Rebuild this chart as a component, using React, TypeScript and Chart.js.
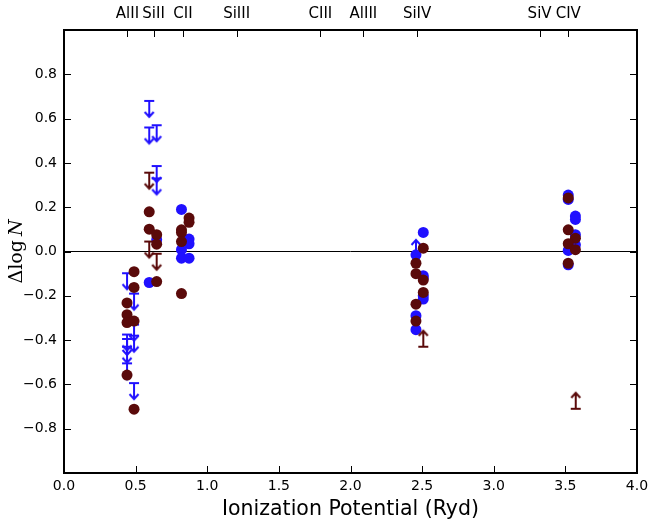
import React, { useEffect, useRef } from 'react';
import { Chart, registerables } from 'chart.js';

Chart.register(...registerables);

// ---- data ----
const xTickStep = 0.5;
const yTickStep = 0.2;
const xRange = [0, 4];
const yRange = [-1, 1];

const ionLabels = ['AlII', 'SiII', 'CII', 'SiIII', 'CIII', 'AlIII', 'SiIV', 'SiV', 'CIV'];
const ionPositions = [0.443, 0.625, 0.83, 1.205, 1.79, 2.09, 2.465, 3.32, 3.52];

const blueDots: [number, number][] = [
  [0.595, -0.14], [0.647, 0.053],
  [0.82, 0.19], [0.873, 0.056], [0.873, 0.035], [0.82, 0.008], [0.82, -0.03], [0.873, -0.03],
  [2.508, 0.086], [2.457, -0.015], [2.508, -0.109], [2.508, -0.12], [2.508, -0.2], [2.508, -0.215],
  [2.457, -0.29], [2.457, -0.353],
  [3.52, 0.255], [3.52, 0.235], [3.57, 0.16], [3.57, 0.145], [3.57, 0.076], [3.57, 0.03],
  [3.52, 0.005], [3.52, -0.06],
];

const redDots: [number, number][] = [
  [0.44, -0.232], [0.44, -0.285], [0.44, -0.321], [0.44, -0.558],
  [0.489, -0.091], [0.489, -0.162], [0.489, -0.314], [0.489, -0.712],
  [0.595, 0.179], [0.595, 0.101], [0.647, 0.076], [0.647, 0.033], [0.647, -0.136],
  [0.873, 0.151], [0.873, 0.132], [0.82, 0.098], [0.82, 0.086], [0.82, 0.045], [0.82, -0.19],
  [2.508, 0.015], [2.457, -0.053], [2.457, -0.1], [2.508, -0.129], [2.508, -0.185],
  [2.457, -0.238], [2.457, -0.314],
  [3.52, 0.242], [3.52, 0.098], [3.57, 0.06], [3.52, 0.035], [3.57, 0.008], [3.52, -0.053],
];

const blueUpperLimits: [number, number][] = [
  [0.595, 0.68], [0.595, 0.56], [0.647, 0.57], [0.647, 0.386], [0.647, 0.33],
  [0.44, -0.098], [0.489, -0.19], [0.489, -0.33], [0.489, -0.38],
  [0.44, -0.375], [0.44, -0.395], [0.44, -0.43], [0.44, -0.505], [0.489, -0.594],
];
const redUpperLimits: [number, number][] = [
  [0.595, 0.356], [0.595, 0.045], [0.647, -0.01],
];
const blueLowerLimits: [number, number][] = [[2.457, -0.02]];
const redLowerLimits: [number, number][] = [[2.508, -0.43], [3.572, -0.71]];

const zeroLine: [number, number][] = [[0, 0], [4, 0]];

// ---- styles ----
const BLUE = '#2010ff';
const RED = '#5a0a0a';
const FONT = 'DejaVu Sans';

function makeLimitMarker(color: string, down: boolean): HTMLCanvasElement {
  const c = document.createElement('canvas');
  const W = 12, H = 40, mid = 20, len = 16;
  c.width = W; c.height = H;
  const ctx = c.getContext('2d')!;
  ctx.strokeStyle = color;
  ctx.lineWidth = 2;
  ctx.lineCap = 'butt';
  const cx = W / 2;
  const end = down ? mid + len : mid - len;
  const dir = down ? 1 : -1;
  ctx.beginPath();
  ctx.moveTo(cx - 5, mid); ctx.lineTo(cx + 5, mid);
  ctx.moveTo(cx, mid); ctx.lineTo(cx, end);
  ctx.stroke();
  ctx.beginPath();
  ctx.moveTo(cx - 4.5, end - dir * 5);
  ctx.lineTo(cx, end);
  ctx.lineTo(cx + 4.5, end - dir * 5);
  ctx.stroke();
  return c;
}

const toXY = (arr: [number, number][]) => arr.map(([x, y]) => ({ x, y }));

const fmt = (v: number) => {
  if (Math.abs(v) < 1e-9) return '0.0';
  const s = Math.abs(v).toFixed(1);
  return v < 0 ? '\u2212' + s : s;
};

const framePlugin = {
  id: 'frameTicks',
  afterDraw(chart: any) {
    const { ctx, chartArea: a, scales } = chart;
    const tl = 7;
    ctx.save();
    ctx.strokeStyle = '#000';
    ctx.lineWidth = 1;
    ctx.beginPath();
    scales.x.ticks.forEach((t: any) => {
      const px = Math.round(scales.x.getPixelForValue(t.value)) + 0.5;
      ctx.moveTo(px, a.bottom); ctx.lineTo(px, a.bottom - tl);
    });
    scales.x2.ticks.forEach((t: any) => {
      const px = Math.round(scales.x2.getPixelForValue(t.value)) + 0.5;
      ctx.moveTo(px, a.top); ctx.lineTo(px, a.top + tl);
    });
    scales.y.ticks.forEach((t: any) => {
      if (Math.abs(t.value) > 0.99) return;
      const py = Math.round(scales.y.getPixelForValue(t.value)) + 0.5;
      ctx.moveTo(a.left, py); ctx.lineTo(a.left + tl, py);
      ctx.moveTo(a.right, py); ctx.lineTo(a.right - tl, py);
    });
    ctx.stroke();
    ctx.lineWidth = 2;
    ctx.strokeRect(a.left, a.top, a.right - a.left, a.bottom - a.top);

    // x title
    ctx.fillStyle = '#000';
    ctx.font = `20.5px "${FONT}"`;
    ctx.textAlign = 'center';
    ctx.textBaseline = 'alphabetic';
    ctx.fillText('Ionization Potential (Ryd)', (a.left + a.right) / 2, 515);

    // y title: Δlog N
    const cy = (a.top + a.bottom) / 2;
    ctx.translate(22, cy);
    ctx.rotate(-Math.PI / 2);
    const f1 = '19px "DejaVu Serif"';
    const f2 = 'italic 19px "DejaVu Serif"';
    ctx.font = f1;
    const w1 = ctx.measureText('\u0394log').width;
    ctx.font = f2;
    const w2 = ctx.measureText('N').width;
    const gap = 4;
    const total = w1 + gap + w2;
    ctx.textAlign = 'left';
    ctx.font = f1;
    ctx.fillText('\u0394log', -total / 2, 0);
    ctx.font = f2;
    ctx.fillText('N', -total / 2 + w1 + gap, 0);
    ctx.restore();
  },
};

export default function App() {
  const ref = useRef<HTMLCanvasElement>(null);
  useEffect(() => {
    if (!ref.current) return;
    const blueDown = makeLimitMarker(BLUE, true);
    const redDown = makeLimitMarker(RED, true);
    const blueUp = makeLimitMarker(BLUE, false);
    const redUp = makeLimitMarker(RED, false);
    const chart = new Chart(ref.current, {
      type: 'scatter',
      data: {
        datasets: [
          {
            label: 'zero', data: toXY(zeroLine), showLine: true, borderColor: '#000',
            borderWidth: 1, pointRadius: 0, order: 10,
          } as any,
          {
            label: 'blue upper', data: toXY(blueUpperLimits), pointStyle: blueDown as any,
            pointRadius: 6, order: 6,
          },
          {
            label: 'blue lower', data: toXY(blueLowerLimits), pointStyle: blueUp as any,
            pointRadius: 6, order: 6,
          },
          {
            label: 'blue', data: toXY(blueDots), backgroundColor: BLUE, borderWidth: 0,
            pointRadius: 5.5, order: 4,
          },
          {
            label: 'red upper', data: toXY(redUpperLimits), pointStyle: redDown as any,
            pointRadius: 6, order: 3,
          },
          {
            label: 'red lower', data: toXY(redLowerLimits), pointStyle: redUp as any,
            pointRadius: 6, order: 3,
          },
          {
            label: 'red', data: toXY(redDots), backgroundColor: RED, borderWidth: 0,
            pointRadius: 5.5, order: 2,
          },
        ],
      },
      options: {
        animation: false,
        responsive: false,
        events: [],
        layout: { padding: { left: 0, right: 13, top: 0, bottom: 0 } },
        plugins: { legend: { display: false }, tooltip: { enabled: false } },
        scales: {
          x: {
            type: 'linear', position: 'bottom', min: xRange[0], max: xRange[1],
            ticks: {
              stepSize: xTickStep, padding: 5, color: '#000', maxRotation: 0,
              font: { family: FONT, size: 14 }, callback: (v: any) => fmt(Number(v)),
            },
            grid: { display: false, drawTicks: false },
            border: { display: false },
            afterFit: (s: any) => { s.height = 50; s.paddingRight = 0; s.paddingLeft = 0; },
          },
          x2: {
            type: 'linear', position: 'top', min: xRange[0], max: xRange[1],
            afterBuildTicks: (s: any) => { s.ticks = ionPositions.map((v) => ({ value: v })); },
            ticks: {
              autoSkip: false, maxRotation: 0, minRotation: 0, padding: 7, color: '#000',
              font: { family: FONT, size: 15 },
              callback: (_v: any, i: number) => ionLabels[i],
            },
            grid: { display: false, drawTicks: false },
            border: { display: false },
            afterFit: (s: any) => { s.height = 30; s.paddingRight = 0; s.paddingLeft = 0; },
          },
          y: {
            type: 'linear', position: 'left', min: yRange[0], max: yRange[1],
            ticks: {
              stepSize: yTickStep, padding: 7, color: '#000',
              font: { family: FONT, size: 14 },
              callback: (v: any) => (Math.abs(Number(v)) > 0.99 ? '' : fmt(Number(v))),
            },
            grid: { display: false, drawTicks: false },
            border: { display: false },
            afterFit: (s: any) => { s.width = 64; s.paddingTop = 0; s.paddingBottom = 0; },
          },
        },
      },
      plugins: [framePlugin],
    });
    return () => chart.destroy();
  }, []);
  return (
    <div style={{ position: 'absolute', left: 0, top: 0, width: 650, height: 523, background: '#fff' }}>
      <canvas ref={ref} width={650} height={523} />
    </div>
  );
}
